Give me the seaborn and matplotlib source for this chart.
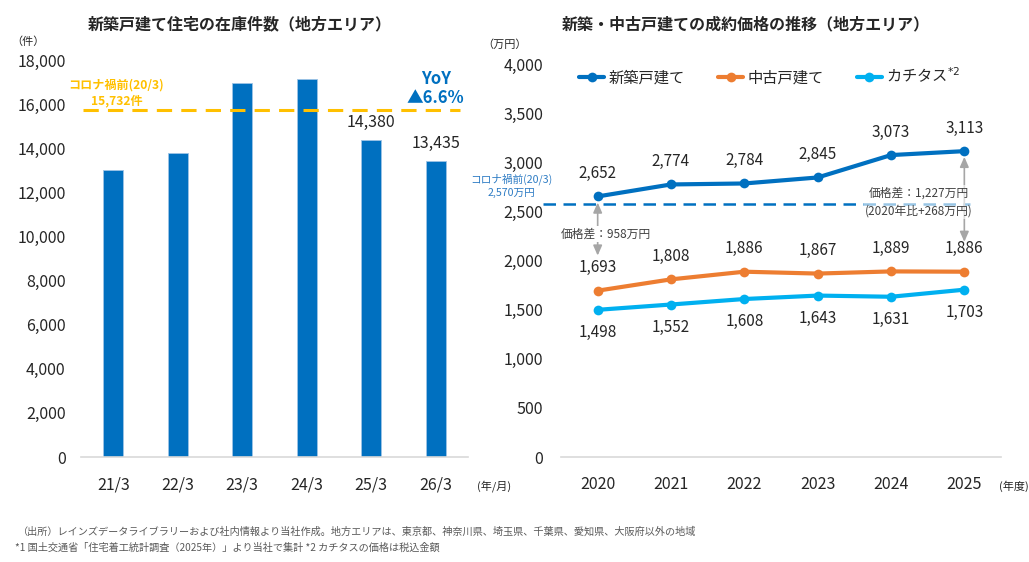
import matplotlib
matplotlib.use('Agg')
import matplotlib.pyplot as plt
import numpy as np
import pandas as pd
import seaborn as sns

sns.set_theme(style='white')
plt.rcParams['font.family'] = ['Noto Sans CJK JP', 'DejaVu Sans']

# --- data: left chart (inventory of new detached houses, regional area) ---
months = ['21/3', '22/3', '23/3', '24/3', '25/3', '26/3']
stock = [13000, 13770, 16950, 17130, 14380, 13435]
labeled_months = ['25/3', '26/3']
pre_covid_stock = 15732

# --- data: right chart (contract prices, 万円) ---
years = ['2020', '2021', '2022', '2023', '2024', '2025']
new_price = [2652, 2774, 2784, 2845, 3073, 3113]
used_price = [1693, 1808, 1886, 1867, 1889, 1886]
katitas_price = [1498, 1552, 1608, 1643, 1631, 1703]
pre_covid_price = 2570

BLUE = '#0070C0'
ORANGE = '#ED7D31'
SKY = '#00B0F0'
YELLOW = '#FFC000'
TXT = '#262626'
GRAY = '#A6A6A6'

fig = plt.figure(figsize=(10.29, 5.62), dpi=100)
W, H = 1029, 562
ax1 = fig.add_axes([81 / W, 1 - 457 / H, (468 - 81) / W, (457 - 60) / H])
ax2 = fig.add_axes([561 / W, 1 - 457 / H, (1001 - 561) / W, (457 - 64) / H])

# ---------------- left chart ----------------
df1 = pd.DataFrame({'month': months, 'stock': stock})
sns.barplot(data=df1, x='month', y='stock', color=BLUE, saturation=1,
            width=0.31, edgecolor='#9DC3E6', linewidth=0.6, ax=ax1)
ax1.set_xlim(-0.5, len(months) - 0.5)
ax1.set_ylim(0, 18000)
ax1.set_yticks(np.arange(0, 18001, 2000))
ax1.set_yticklabels([f'{v:,}' for v in range(0, 18001, 2000)])
ax1.set_xlabel('')
ax1.set_ylabel('')

for i, (m, v) in enumerate(zip(months, stock)):
    if m in labeled_months:
        ax1.text(i, v + 780, f'{v:,}', ha='center', va='center',
                 fontsize=11.5, color=TXT)

ax1.axhline(pre_covid_stock, xmin=0.005, xmax=0.98, color=YELLOW, lw=2.2,
            dashes=(5, 3))
ax1.text(0.05, 16500, 'コロナ禍前(20/3)\n15,732件', ha='center', va='center',
         fontsize=8.7, fontweight='bold', color=YELLOW, linespacing=1.25)
ax1.text(5.0, 16700, 'YoY\n▲6.6%', ha='center', va='center', fontsize=12,
         fontweight='bold', color=BLUE, linespacing=1.1,
         family=['Noto Sans CJK JP', 'DejaVu Sans'])

ax1.set_title('新築戸建て住宅の在庫件数（地方エリア）', fontsize=11.5,
              fontweight='bold', color=TXT, x=0.41, y=1.0, pad=22)

# ---------------- right chart ----------------
pos = np.arange(len(years))
series = [('新築戸建て', new_price, BLUE, 1),
          ('中古戸建て', used_price, ORANGE, 1),
          ('カチタス$^{*2}$', katitas_price, SKY, -1)]
for name, vals, col, side in series:
    sns.lineplot(x=pos, y=vals, color=col, lw=3, marker='o', markersize=7,
                 markeredgewidth=0, label=name, ax=ax2)
    for i, v in enumerate(vals):
        ax2.text(i, v + side * 232, f'{v:,}', ha='center', va='center',
                 fontsize=11, color=TXT)

ax2.set_xlim(-0.5, len(years) - 0.5)
ax2.set_ylim(0, 4000)
ax2.set_xticks(pos)
ax2.set_xticklabels(years)
ax2.set_yticks(np.arange(0, 4001, 500))
ax2.set_yticklabels([f'{v:,}' for v in range(0, 4001, 500)])

ax2.axhline(pre_covid_price, xmin=-0.04, xmax=0.93, color=BLUE, lw=1.8,
            dashes=(5, 3), clip_on=False)
ax2.text(-1.17, 2760, 'コロナ禍前(20/3)\n2,570万円', ha='center', va='center',
         fontsize=7.7, color='#2E7CC4', linespacing=1.35, clip_on=False)

arrow = dict(arrowstyle='<|-|>,head_length=0.5,head_width=0.22',
             color=GRAY, lw=1.2, shrinkA=0, shrinkB=0)
ax2.annotate('', xy=(0, 2050), xytext=(0, 2590), arrowprops=arrow)
ax2.annotate('', xy=(5, 2190), xytext=(5, 3055), arrowprops=arrow)
ax2.text(0.11, 2270, '価格差：958万円', ha='center', va='center', fontsize=8.5,
         color='#404040', bbox=dict(facecolor='white', edgecolor='none', pad=1))
ax2.text(4.38, 2595, '価格差：1,227万円\n(2020年比+268万円)', ha='center',
         va='center', fontsize=8.5, color='#404040', linespacing=1.45,
         bbox=dict(facecolor='white', edgecolor='none', alpha=0.6, pad=1))

leg = ax2.legend(loc='center', bbox_to_anchor=(0.475, 0.968), ncol=3,
                 frameon=False, fontsize=11, handlelength=1.6,
                 columnspacing=2.2, handletextpad=0.3)
for t in leg.get_texts():
    t.set_color(TXT)

ax2.set_title('新築・中古戸建ての成約価格の推移（地方エリア）', fontsize=11.5,
              fontweight='bold', color=TXT, x=0.42, y=1.0, pad=25)

# ---------------- common axis styling ----------------
for ax in (ax1, ax2):
    for s in ('top', 'right', 'left'):
        ax.spines[s].set_visible(False)
    ax.spines['bottom'].set_color('#D9D9D9')
    ax.spines['bottom'].set_linewidth(1.2)
    ax.grid(False)
    ax.tick_params(axis='both', length=0, labelsize=11.5, labelcolor=TXT)
    ax.tick_params(axis='x', pad=14)
ax1.tick_params(axis='y', pad=11)
ax2.tick_params(axis='y', pad=13)

fig.text(28 / W, 1 - 42 / H, '（件）', ha='center', va='center', fontsize=8, color=TXT)
fig.text(505 / W, 1 - 45 / H, '（万円）', ha='center', va='center', fontsize=8, color=TXT)
fig.text(494 / W, 1 - 486 / H, '(年/月)', ha='center', va='center', fontsize=8, color=TXT)
fig.text(1014 / W, 1 - 486 / H, '(年度)', ha='center', va='center', fontsize=8, color=TXT)

fig.text(18 / W, 1 - 532 / H,
         '（出所）レインズデータライブラリーおよび社内情報より当社作成。地方エリアは、'
         '東京都、神奈川県、埼玉県、千葉県、愛知県、大阪府以外の地域',
         ha='left', va='center', fontsize=7.3, color='#595959')
fig.text(15 / W, 1 - 548 / H,
         '*1 国土交通省「住宅着工統計調査（2025年）」より当社で集計 *2 カチタスの価格は税込金額',
         ha='left', va='center', fontsize=7.3, color='#595959')

fig.savefig('out.png', dpi=100)
